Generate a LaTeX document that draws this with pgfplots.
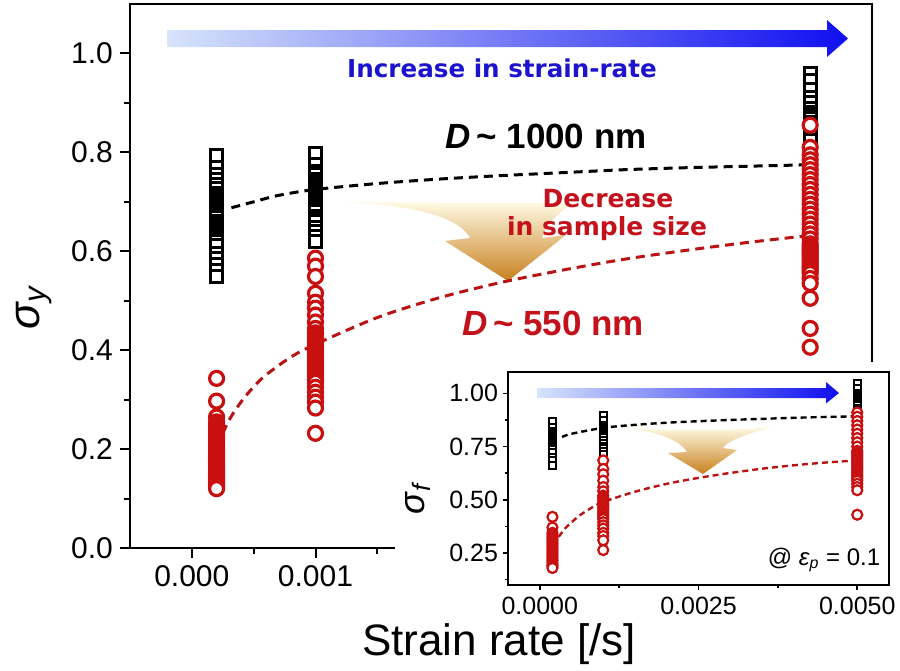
\documentclass[border=0pt]{standalone}
\usepackage{fontspec}
\setmainfont{Liberation Sans}
\newfontfamily\verd{DejaVu Sans}
\usepackage{pgfplots}
\pgfplotsset{compat=1.18}

\definecolor{mred}{RGB}{200,16,16}
\definecolor{lred}{RGB}{185,20,20}
\definecolor{tred}{RGB}{195,18,28}
\definecolor{tblue}{RGB}{28,20,205}
\definecolor{barlight}{RGB}{215,228,250}
\definecolor{bardark}{RGB}{15,15,240}
\definecolor{orlight}{RGB}{255,250,228}
\definecolor{ordark}{RGB}{200,128,30}

\begin{document}
\begin{tikzpicture}
\useasboundingbox (0,0) rectangle (450pt,-335pt);

% orange "decrease" arrow behind the main plot (pixel units)
\begin{scope}[x=0.5pt,y=-0.5pt]
\shade[top color=orlight, bottom color=ordark]
  (343,202) .. controls (430,203) and (510,203) .. (573,203)
  .. controls (555,215) and (544,228) .. (542,238)
  -- (566,235) -- (508,281) -- (445,241) -- (470,238)
  .. controls (462,222) and (430,206) .. (343,202) -- cycle;
\end{scope}

% main axis
\begin{axis}[
    at={(65pt,-274pt)}, anchor=south west,
    scale only axis, width=371pt, height=272pt,
    xmin=-0.0005, xmax=0.0055, ymin=0, ymax=1.1,
    xtick={0,0.001}, xticklabels={0.000,0.001},
    minor xtick={0.0005,0.0015},
    ytick={0,0.2,0.4,0.6,0.8,1.0},
    yticklabels={0.0,0.2,0.4,0.6,0.8,1.0},
    minor ytick={0.1,0.3,0.5,0.7,0.9},
    scaled x ticks=false,
    tick align=outside, tick pos=left,
    major tick length=5pt, minor tick length=3pt,
    every tick/.style={black, line width=1pt},
    axis line style={line width=1.2pt},
    tick label style={font=\fontsize{15}{17}\selectfont},
]
% fits (D ~ 1000 nm, D ~ 550 nm)
\addplot[black, line width=1.5pt, dash pattern=on 4.5pt off 3pt, smooth] coordinates {
  (0.00032,0.688) (0.0005,0.700) (0.0007,0.713) (0.001,0.725) (0.0015,0.737)
  (0.002,0.746) (0.0025,0.753) (0.003,0.759) (0.0035,0.765) (0.004,0.769)
  (0.0045,0.772) (0.005,0.775)};
\addplot[lred, line width=1.5pt, dash pattern=on 4.5pt off 3pt, smooth] coordinates {
  (0.0002,0.204) (0.0003,0.258) (0.0004,0.296) (0.0005,0.326) (0.0006,0.350)
  (0.0008,0.386) (0.001,0.412) (0.0015,0.466) (0.002,0.506) (0.0025,0.537)
  (0.003,0.562) (0.0035,0.584) (0.004,0.602) (0.0045,0.618) (0.005,0.632)};
% D ~ 1000 nm
\addplot[only marks, mark=square*, mark size=3.0pt,
         mark options={draw=black, fill=white, line width=1.5pt}] coordinates {
  (0.0002,0.794) (0.0002,0.770) (0.0002,0.756) (0.0002,0.745) (0.0002,0.735)
  (0.0002,0.727) (0.0002,0.717) (0.0002,0.710) (0.0002,0.705) (0.0002,0.700)
  (0.0002,0.695) (0.0002,0.690) (0.0002,0.685) (0.0002,0.680) (0.0002,0.675)
  (0.0002,0.668) (0.0002,0.660) (0.0002,0.655) (0.0002,0.650) (0.0002,0.645)
  (0.0002,0.640) (0.0002,0.635) (0.0002,0.630) (0.0002,0.625) (0.0002,0.620)
  (0.0002,0.612) (0.0002,0.596) (0.0002,0.586)
  (0.0002,0.574) (0.0002,0.562) (0.0002,0.549)
  (0.001,0.798) (0.001,0.775) (0.001,0.762) (0.001,0.755) (0.001,0.745)
  (0.001,0.740) (0.001,0.735) (0.001,0.730) (0.001,0.725) (0.001,0.718)
  (0.001,0.712) (0.001,0.706) (0.001,0.700) (0.001,0.695) (0.001,0.690)
  (0.001,0.685) (0.001,0.680) (0.001,0.671) (0.001,0.665) (0.001,0.660)
  (0.001,0.649) (0.001,0.640) (0.001,0.630) (0.001,0.620)
  (0.005,0.960) (0.005,0.945) (0.005,0.927) (0.005,0.910) (0.005,0.900)
  (0.005,0.889) (0.005,0.880) (0.005,0.875) (0.005,0.868) (0.005,0.860)
  (0.005,0.852) (0.005,0.845) (0.005,0.835) (0.005,0.824)};
% D ~ 550 nm
\addplot[only marks, mark=*, mark size=3.5pt,
         mark options={draw=mred, fill=white, line width=1.6pt}] coordinates {
  (0.0002,0.343) (0.0002,0.297) (0.0002,0.265) (0.0002,0.255) (0.0002,0.250)
  (0.0002,0.245) (0.0002,0.240) (0.0002,0.235) (0.0002,0.230) (0.0002,0.226)
  (0.0002,0.222) (0.0002,0.218) (0.0002,0.215) (0.0002,0.210) (0.0002,0.205)
  (0.0002,0.201) (0.0002,0.198) (0.0002,0.194) (0.0002,0.190) (0.0002,0.186)
  (0.0002,0.182) (0.0002,0.178) (0.0002,0.175) (0.0002,0.171) (0.0002,0.168)
  (0.0002,0.164) (0.0002,0.160) (0.0002,0.156) (0.0002,0.153) (0.0002,0.150)
  (0.0002,0.146) (0.0002,0.143) (0.0002,0.140) (0.0002,0.136) (0.0002,0.133)
  (0.0002,0.130) (0.0002,0.127) (0.0002,0.123) (0.0002,0.120)
  (0.001,0.586) (0.001,0.570) (0.001,0.549) (0.001,0.515) (0.001,0.497)
  (0.001,0.485) (0.001,0.471) (0.001,0.457) (0.001,0.444) (0.001,0.435)
  (0.001,0.430) (0.001,0.425) (0.001,0.420) (0.001,0.415) (0.001,0.410)
  (0.001,0.405) (0.001,0.400) (0.001,0.395) (0.001,0.390) (0.001,0.385)
  (0.001,0.380) (0.001,0.375) (0.001,0.370) (0.001,0.365) (0.001,0.360)
  (0.001,0.355) (0.001,0.350) (0.001,0.345) (0.001,0.340) (0.001,0.335)
  (0.001,0.325) (0.001,0.315) (0.001,0.305) (0.001,0.295) (0.001,0.283)
  (0.001,0.232)
  (0.005,0.855) (0.005,0.810) (0.005,0.795) (0.005,0.785) (0.005,0.775)
  (0.005,0.765) (0.005,0.755) (0.005,0.745) (0.005,0.735) (0.005,0.725)
  (0.005,0.715) (0.005,0.705) (0.005,0.695) (0.005,0.685) (0.005,0.675)
  (0.005,0.665) (0.005,0.655) (0.005,0.645) (0.005,0.635) (0.005,0.625)
  (0.005,0.615) (0.005,0.610) (0.005,0.605) (0.005,0.600) (0.005,0.595)
  (0.005,0.590) (0.005,0.585) (0.005,0.580) (0.005,0.575) (0.005,0.570)
  (0.005,0.565) (0.005,0.560) (0.005,0.555) (0.005,0.545) (0.005,0.535)
  (0.005,0.505) (0.005,0.444) (0.005,0.406)};
\end{axis}

\begin{scope}[x=0.5pt,y=-0.5pt]
% strain-rate arrow
\shade[left color=barlight, right color=bardark]
  (167,30) -- (827,30) -- (827,20) -- (848,38.5) -- (827,57) -- (827,47) -- (167,47) -- cycle;
\node[anchor=base, text=tblue, font={\verd\fontsize{12.3}{14}\selectfont\bfseries}] at (502,77) {Increase in strain-rate};
\node[anchor=base, font={\fontsize{17.5}{20}\selectfont\bfseries}] at (546,148) {\textit{D}\,\textasciitilde\ 1000 nm};
\node[anchor=base, text=tred, font={\verd\fontsize{12.5}{14}\selectfont\bfseries}] at (608,207) {Decrease};
\node[anchor=base, text=tred, font={\verd\fontsize{12.5}{14}\selectfont\bfseries}] at (607,235) {in sample size};
\node[anchor=base, text=tred, font={\fontsize{17.5}{20}\selectfont\bfseries}] at (553,335) {\textit{D}\,\textasciitilde\ 550 nm};
\node[rotate=90, font=\fontsize{22}{24}\selectfont] at (34,307) {\textit{σ}\textsubscript{\textit{y}}};
% white ground of the inset
\fill[white] (395,362) rectangle (900,670);
% small orange arrow of the inset
\shade[top color=orlight, bottom color=ordark]
  (620,428) .. controls (670,431) and (730,431) .. (773,427)
  .. controls (750,433) and (728,440) .. (723,448)
  -- (737,450) -- (703,474) -- (668,453) -- (687,452)
  .. controls (680,440) and (655,430) .. (620,428) -- cycle;
\end{scope}

% inset axis: sigma_f at eps_p = 0.1
\begin{axis}[
    at={(254pt,-292.5pt)}, anchor=south west,
    scale only axis, width=190.5pt, height=106.5pt,
    xmin=-0.0005, xmax=0.0055, ymin=0.1, ymax=1.1,
    xtick={0,0.0025,0.005}, xticklabels={0.0000,0.0025,0.0050},
    minor xtick={0.00125,0.00375},
    ytick={0.25,0.5,0.75,1.0}, yticklabels={0.25,0.50,0.75,1.00},
    minor ytick={0.125,0.375,0.625,0.875},
    scaled x ticks=false,
    tick align=outside, tick pos=left,
    major tick length=2.5pt, minor tick length=1.5pt,
    every tick/.style={black, line width=0.8pt},
    axis line style={line width=0.9pt},
    tick label style={font=\fontsize{12.5}{14}\selectfont},
    yticklabel style={xshift=1pt},
]
\addplot[black, line width=1.2pt, dash pattern=on 3pt off 2pt, smooth] coordinates {
  (0.00035,0.795) (0.0005,0.810) (0.001,0.838) (0.0015,0.852) (0.002,0.862)
  (0.0025,0.869) (0.003,0.875) (0.0035,0.880) (0.004,0.885) (0.0045,0.889)
  (0.005,0.892)};
\addplot[lred, line width=1.2pt, dash pattern=on 3pt off 2pt, smooth] coordinates {
  (0.0003,0.326) (0.0004,0.366) (0.0006,0.420) (0.0008,0.460) (0.001,0.490)
  (0.0015,0.538) (0.002,0.575) (0.0025,0.603) (0.003,0.626) (0.0035,0.646)
  (0.004,0.662) (0.0045,0.675) (0.005,0.685)};
\addplot[only marks, mark=square*, mark size=1.8pt,
         mark options={draw=black, fill=white, line width=1.0pt}] coordinates {
  (0.0002,0.865) (0.0002,0.840) (0.0002,0.820) (0.0002,0.810) (0.0002,0.800)
  (0.0002,0.790) (0.0002,0.785) (0.0002,0.780) (0.0002,0.775) (0.0002,0.770)
  (0.0002,0.765) (0.0002,0.760) (0.0002,0.755) (0.0002,0.750) (0.0002,0.745)
  (0.0002,0.735) (0.0002,0.720) (0.0002,0.700) (0.0002,0.685) (0.0002,0.662)
  (0.001,0.897) (0.001,0.870) (0.001,0.850) (0.001,0.840) (0.001,0.835)
  (0.001,0.828) (0.001,0.820) (0.001,0.812) (0.001,0.805) (0.001,0.798)
  (0.001,0.790) (0.001,0.780) (0.001,0.765) (0.001,0.750)
  (0.001,0.740) (0.001,0.725) (0.001,0.710)
  (0.005,1.045) (0.005,1.020) (0.005,1.000) (0.005,0.990) (0.005,0.980)
  (0.005,0.970) (0.005,0.960) (0.005,0.950) (0.005,0.940) (0.005,0.930)
  (0.005,0.920) (0.005,0.910) (0.005,0.900) (0.005,0.885)};
\addplot[only marks, mark=*, mark size=2.5pt,
         mark options={draw=mred, fill=white, line width=1.1pt}] coordinates {
  (0.0002,0.420) (0.0002,0.370) (0.0002,0.345) (0.0002,0.335) (0.0002,0.325)
  (0.0002,0.315) (0.0002,0.305) (0.0002,0.295) (0.0002,0.285) (0.0002,0.275)
  (0.0002,0.265) (0.0002,0.255) (0.0002,0.245) (0.0002,0.235) (0.0002,0.225)
  (0.0002,0.215) (0.0002,0.205) (0.0002,0.195) (0.0002,0.188) (0.0002,0.180)
  (0.001,0.685) (0.001,0.645) (0.001,0.620) (0.001,0.590) (0.001,0.560)
  (0.001,0.540) (0.001,0.520) (0.001,0.510) (0.001,0.500) (0.001,0.490)
  (0.001,0.480) (0.001,0.470) (0.001,0.460) (0.001,0.450) (0.001,0.440)
  (0.001,0.430) (0.001,0.420) (0.001,0.410) (0.001,0.395)
  (0.001,0.380) (0.001,0.365) (0.001,0.345) (0.001,0.330) (0.001,0.310)
  (0.001,0.264)
  (0.005,0.910) (0.005,0.890) (0.005,0.870) (0.005,0.850) (0.005,0.830)
  (0.005,0.810) (0.005,0.790) (0.005,0.770) (0.005,0.750) (0.005,0.730)
  (0.005,0.720) (0.005,0.710) (0.005,0.700) (0.005,0.690) (0.005,0.680)
  (0.005,0.670) (0.005,0.660) (0.005,0.650) (0.005,0.640) (0.005,0.630)
  (0.005,0.620) (0.005,0.610) (0.005,0.600) (0.005,0.590) (0.005,0.575)
  (0.005,0.560) (0.005,0.545) (0.005,0.430)};
\end{axis}

\begin{scope}[x=0.5pt,y=-0.5pt]
\shade[left color=barlight, right color=bardark]
  (537,388) -- (826,388) -- (826,382) -- (839,393) -- (826,403.5) -- (826,398) -- (537,398) -- cycle;
\node[anchor=base, font=\fontsize{12}{14}\selectfont] at (824,565) {@ \textit{ε}\textsubscript{\textit{p}} = 0.1};
\node[rotate=90, font=\fontsize{18}{20}\selectfont] at (418,498) {\textit{σ}\textsubscript{\textit{f}}};
\node[anchor=base, font=\fontsize{22}{26}\selectfont] at (499,655) {Strain rate [/s]};
\end{scope}
\end{tikzpicture}
\end{document}
